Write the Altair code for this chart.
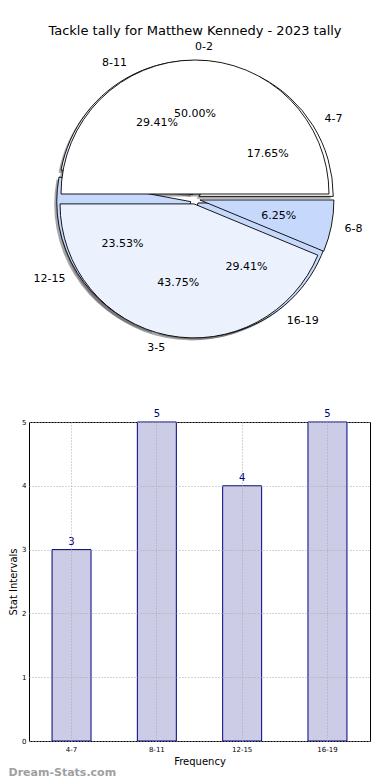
import altair as alt
import pandas as pd

FONT = "DejaVu Sans"
title_text = "Tackle tally for Matthew Kennedy - 2023 tally"

# first pie (drawn underneath)
set_a_labels = ["4-7", "8-11", "12-15", "16-19"]
set_a_values = [3, 5, 4, 5]
# second pie (drawn on top)
set_b_labels = ["0-2", "3-5", "6-8"]
set_b_values = [8, 7, 1]

# bar chart
bar_labels = ["4-7", "8-11", "12-15", "16-19"]
bar_values = [3, 5, 4, 5]

all_labels = set_a_labels + set_b_labels
slice_colors = ["#ffffff", "#ebf1fd", "#c6d9fd", "#c6d9fd", "#ffffff", "#ebf1fd", "#c6d9fd"]

# geometry (style)
L = 21            # left extent taken by the bar chart's y axis
CX, CY = 195 - 8 - L, 190
R = 134
D = 5             # explode distance
LBL = 1.1 * R
PCT = 0.6 * R
SH = 2.5          # shadow offset

df_a = pd.DataFrame({"label": set_a_labels, "value": set_a_values, "idx": list(range(len(set_a_labels)))})
df_b = pd.DataFrame({"label": set_b_labels, "value": set_b_values, "idx": list(range(len(set_b_labels)))})


def pie_base(df):
    return (
        alt.Chart(df)
        .transform_joinaggregate(total="sum(value)")
        .transform_window(cum="sum(value)", sort=[alt.SortField("idx")], frame=[None, 0])
        .transform_calculate(a0="2*PI*(datum.cum-datum.value)/datum.total")
        .transform_calculate(a1="2*PI*datum.cum/datum.total")
        .transform_calculate(am="(datum.a0+datum.a1)/2")
        .transform_calculate(t0="PI/2-datum.a1")
        .transform_calculate(t1="PI/2-datum.a0")
        .transform_calculate(pct="format(100*datum.value/datum.total, '.2f') + '%'")
        .transform_calculate(cx=f"{CX}+{D}*cos(datum.am)")
        .transform_calculate(cy=f"{CY}-{D}*sin(datum.am)")
        .transform_calculate(sx=f"datum.cx-{SH}")
        .transform_calculate(sy=f"datum.cy+{SH}")
        .transform_calculate(lx=f"datum.cx+{LBL}*cos(datum.am)")
        .transform_calculate(ly=f"datum.cy-{LBL}*sin(datum.am)")
        .transform_calculate(px=f"datum.cx+{PCT}*cos(datum.am)")
        .transform_calculate(py=f"datum.cy-{PCT}*sin(datum.am)")
    )


fill_scale = alt.Scale(domain=all_labels, range=slice_colors)


def shadow(base):
    return base.mark_arc(radius=R, fill="#4d4d4d", opacity=0.5).encode(
        theta=alt.Theta("t0:Q", scale=None),
        theta2=alt.Theta2("t1:Q"),
        x=alt.X("sx:Q", scale=None),
        y=alt.Y("sy:Q", scale=None),
    )


def wedges(base):
    return base.mark_arc(radius=R, stroke="black", strokeWidth=0.9).encode(
        theta=alt.Theta("t0:Q", scale=None),
        theta2=alt.Theta2("t1:Q"),
        x=alt.X("cx:Q", scale=None),
        y=alt.Y("cy:Q", scale=None),
        fill=alt.Fill("label:N", scale=fill_scale, legend=None),
    )


def texts(base):
    left = base.transform_filter("cos(datum.am) > -1e-9").mark_text(
        align="left", baseline="middle", fontSize=11, font=FONT, color="black"
    ).encode(x=alt.X("lx:Q", scale=None), y=alt.Y("ly:Q", scale=None), text="label:N")
    right = base.transform_filter("cos(datum.am) <= -1e-9").mark_text(
        align="right", baseline="middle", fontSize=11, font=FONT, color="black"
    ).encode(x=alt.X("lx:Q", scale=None), y=alt.Y("ly:Q", scale=None), text="label:N")
    pct = base.mark_text(
        align="center", baseline="middle", fontSize=11, font=FONT, color="black"
    ).encode(x=alt.X("px:Q", scale=None), y=alt.Y("py:Q", scale=None), text="pct:N")
    return [left, right, pct]


base_a = pie_base(df_a)
base_b = pie_base(df_b)

title_mark = alt.Chart(pd.DataFrame({"t": [title_text]})).mark_text(
    fontSize=13, font=FONT, color="black", align="center", baseline="middle"
).encode(x=alt.value(CX), y=alt.value(22), text="t:N")

pie = alt.layer(
    shadow(base_a), shadow(base_b), wedges(base_a), wedges(base_b),
    *texts(base_a), *texts(base_b), title_mark
).properties(width=341, height=403, view=alt.ViewBackground(stroke="transparent"))

df_bar = pd.DataFrame({"cat": bar_labels, "n": bar_values})

x_enc = alt.X(
    "cat:N", sort=bar_labels, title="Frequency",
    scale=alt.Scale(paddingInner=0.543, paddingOuter=0.27),
    axis=alt.Axis(labelAngle=0, labelFontSize=7, titleFontSize=10, titleFontWeight="normal",
                  grid=True, bandPosition=0.5, gridDash=[1, 2], gridColor="#a8a8a8",
                  ticks=False, domain=False, labelPadding=4, titlePadding=4, zindex=1,
                  labelColor="black", titleColor="black", labelFont=FONT, titleFont=FONT),
)
y_enc = alt.Y(
    "n:Q", title="Stat Intervals",
    scale=alt.Scale(domain=[0, 5], nice=False),
    axis=alt.Axis(values=[0, 1, 2, 3, 4, 5], format="d", labelFontSize=7, titleFontSize=10,
                  titleFontWeight="normal", grid=True, gridDash=[1, 2], gridColor="#a8a8a8",
                  ticks=False, domain=False, labelPadding=3, titlePadding=3, zindex=1,
                  labelColor="black", titleColor="black", labelFont=FONT, titleFont=FONT),
)

bars = alt.Chart(df_bar).mark_bar(fill="#cccce6", stroke="#000080", strokeWidth=1).encode(x=x_enc, y=y_enc)
bar_text = alt.Chart(df_bar).mark_text(
    color="#000080", fontSize=10, font=FONT, baseline="bottom", dy=-3
).encode(x=alt.X("cat:N", sort=bar_labels), y=alt.Y("n:Q"), text="n:Q")

bar_chart = alt.layer(bars, bar_text).properties(
    width=341, height=319,
    title=alt.TitleParams("Dream-Stats.com", orient="bottom", anchor="start", frame="bounds",
                          color="#a0a0a0", fontSize=11, fontWeight="bold", font=FONT, offset=1),
)

chart = (
    alt.vconcat(pie, bar_chart, spacing=10, bounds="flush")
    .properties(padding=0)
    .configure_view(stroke="black", strokeWidth=1)
)

chart.save("out.html", embed_options={"renderer": "svg", "actions": False})
